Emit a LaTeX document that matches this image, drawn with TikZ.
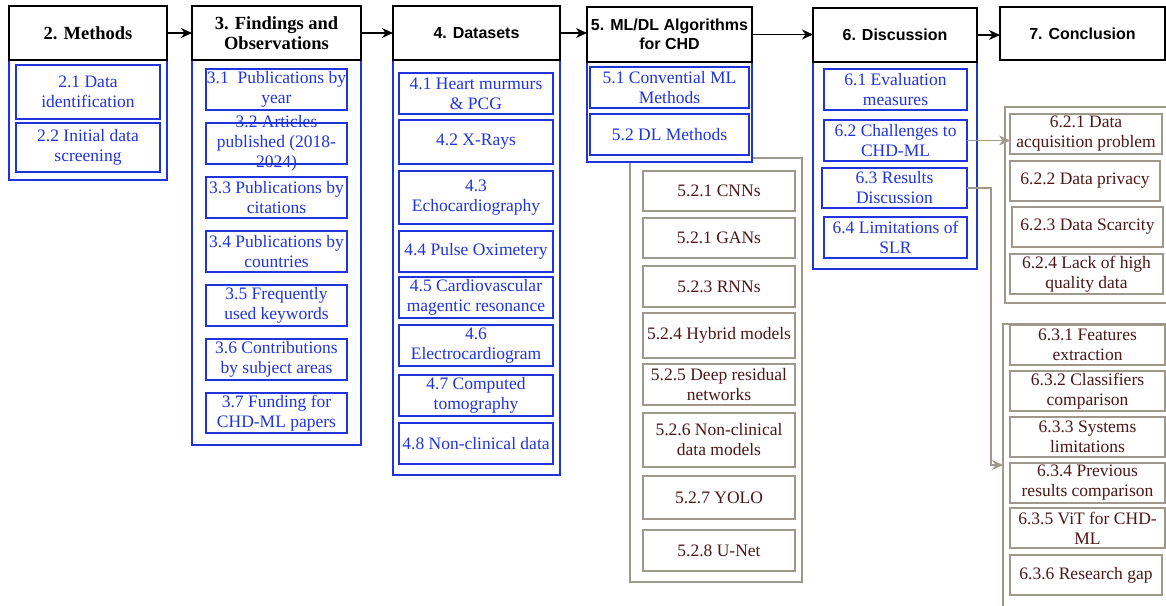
\documentclass[tikz,border=0pt]{standalone}
\usepackage{fontspec}
\setmainfont{Liberation Serif}
\setsansfont{Liberation Sans}
\usetikzlibrary{arrows.meta}
\definecolor{myblue}{RGB}{32,52,222}
\definecolor{mygray}{RGB}{158,153,138}
\definecolor{mymaroon}{RGB}{78,22,22}
\newcommand\mkbox[7]{\node[#1,minimum width={(#4-#2)*1pt},minimum height={(#5-#3)*1pt}] (#6) at (#2,#3) {#7};}
\begin{document}
\begin{tikzpicture}[x=1pt,y=-1pt,
  base/.style={anchor=north west,inner sep=0pt,outer sep=0pt,align=center},
  hdr/.style={base,draw=black,line width=1.2pt,fill=white,font=\sffamily\bfseries\fontsize{16}{19}\selectfont},
  hdrs/.style={base,draw=black,line width=1.2pt,fill=white,font=\rmfamily\bfseries\fontsize{18.5}{20}\selectfont},
  cont/.style={base,draw=myblue,line width=1.3pt,fill=white},
  bbox/.style={base,draw=myblue,line width=1.3pt,text=myblue,font=\fontsize{17.5}{20}\selectfont},
  gframe/.style={base,draw=mygray,line width=1.2pt},
  gbox/.style={base,draw=mygray,line width=1.2pt,text=mymaroon,font=\fontsize{17.5}{20}\selectfont},
  harrow/.style={line width=1.2pt,-{Stealth[length=11pt,width=10pt,inset=3.5pt]}},
  garrow/.style={draw=mygray,line width=1.2pt,-{Stealth[length=11pt,width=10pt,inset=3.5pt]},mygray}
]
\useasboundingbox (0,0) rectangle (1166,605);
\clip (0,0) rectangle (1166,605);
\fill[white] (0,0) rectangle (1166,605);

% gray group frames
\mkbox{gframe}{630}{158}{802}{582}{g52}{}
\mkbox{gframe}{1005}{107}{1180}{303}{g62}{}
\mkbox{gframe}{1003}{324}{1180}{620}{g63}{}

% containers
\mkbox{cont}{9}{60}{167}{180}{c2}{}
\mkbox{cont}{192}{60}{361}{445}{c3}{}
\mkbox{cont}{393}{60}{560}{475}{c4}{}
\mkbox{cont}{587}{62}{752}{162}{c5}{}
\mkbox{cont}{813}{62}{977}{269}{c6}{}

% headers
\mkbox{hdrs}{9}{6}{167}{60}{h2}{2. Methods}
\mkbox{hdrs}{192}{6}{361}{60}{h3}{3. Findings and\\Observations}
\mkbox{hdr}{393}{6}{560}{60}{h4}{4. Datasets}
\mkbox{hdr}{587}{7}{752}{62}{h5}{5. ML/DL Algorithms\\for CHD}
\mkbox{hdr}{813}{8}{977}{62}{h6}{6. Discussion}
\mkbox{hdr}{1000}{7}{1165}{60}{h7}{7. Conclusion}

% 2.x
\mkbox{bbox}{16}{65}{160}{119}{b21}{2.1 Data\\identification}
\mkbox{bbox}{16}{123}{160}{172}{b22}{2.2 Initial data\\screening}

% 3.x
\mkbox{bbox}{206}{69}{347}{110}{b31}{3.1\ \ Publications by\\year}
\mkbox{bbox}{206}{123}{347}{164}{b32}{}
\node[text=myblue,font=\fontsize{17.5}{20}\selectfont,align=center,inner sep=0pt] (t32) at (b32.center) {3.2 Articles\\published (2018-\\2024)};
\mkbox{bbox}{206}{177}{347}{218}{b33}{3.3 Publications by\\citations}
\mkbox{bbox}{206}{231}{347}{272}{b34}{3.4 Publications by\\countries}
\mkbox{bbox}{206}{285}{347}{326}{b35}{3.5 Frequently\\used keywords}
\mkbox{bbox}{206}{339}{347}{380}{b36}{3.6 Contributions\\by subject areas}
\mkbox{bbox}{206}{393}{347}{433}{b37}{3.7 Funding for\\CHD-ML papers}

% 4.x
\mkbox{bbox}{399}{73}{553}{114}{b41}{4.1 Heart murmurs\\\& PCG}
\mkbox{bbox}{399}{120}{553}{164}{b42}{4.2 X-Rays}
\mkbox{bbox}{399}{171}{553}{224}{b43}{4.3\\Echocardiography}
\mkbox{bbox}{399}{231}{553}{272}{b44}{4.4 Pulse Oximetery}
\mkbox{bbox}{399}{277}{553}{318}{b45}{4.5 Cardiovascular\\magentic resonance}
\mkbox{bbox}{399}{325}{553}{366}{b46}{4.6\\Electrocardiogram}
\mkbox{bbox}{399}{375}{553}{416}{b47}{4.7 Computed\\tomography}
\mkbox{bbox}{399}{423}{553}{464}{b48}{4.8 Non-clinical data}

% 5.x
\mkbox{bbox}{590}{67}{749}{108}{b51}{5.1 Convential ML\\Methods}
\mkbox{bbox}{590}{114}{749}{155}{b52}{5.2 DL Methods}

% 5.2.x
\mkbox{gbox}{643}{171}{795}{211}{b521}{5.2.1 CNNs}
\mkbox{gbox}{643}{218}{795}{258}{b521g}{5.2.1 GANs}
\mkbox{gbox}{643}{266}{795}{307}{b523}{5.2.3 RNNs}
\mkbox{gbox}{643}{313}{795}{358}{b524}{5.2.4 Hybrid models}
\mkbox{gbox}{643}{364}{795}{405}{b525}{5.2.5 Deep residual\\networks}
\mkbox{gbox}{643}{413}{795}{467}{b526}{5.2.6 Non-clinical\\data models}
\mkbox{gbox}{643}{476}{795}{519}{b527}{5.2.7 YOLO}
\mkbox{gbox}{643}{530}{795}{571}{b528}{5.2.8 U-Net}

% 6.x
\mkbox{bbox}{824}{69}{967}{110}{b61}{6.1 Evaluation\\measures}
\mkbox{bbox}{824}{120}{967}{161}{b62}{6.2 Challenges to\\CHD-ML}
\mkbox{bbox}{822}{168}{967}{208}{b63}{6.3 Results\\Discussion}
\mkbox{bbox}{824}{217}{967}{258}{b64}{6.4 Limitations of\\SLR}

% 6.2.x
\mkbox{gbox}{1010}{114}{1162}{154}{b621}{6.2.1 Data\\acquisition problem}
\mkbox{gbox}{1010}{161}{1160}{201}{b622}{6.2.2 Data privacy}
\mkbox{gbox}{1012}{207}{1163}{247}{b623}{6.2.3 Data Scarcity}
\mkbox{gbox}{1010}{254}{1163}{294}{b624}{6.2.4 Lack of high\\quality data}

% 6.3.x
\mkbox{gbox}{1010}{325}{1165}{365}{b631}{6.3.1 Features\\extraction}
\mkbox{gbox}{1010}{371}{1165}{411}{b632}{6.3.2 Classifiers\\comparison}
\mkbox{gbox}{1010}{417}{1165}{457}{b633}{6.3.3 Systems\\limitations}
\mkbox{gbox}{1010}{463}{1165}{503}{b634}{6.3.4 Previous\\results comparison}
\mkbox{gbox}{1010}{508}{1165}{548}{b635}{6.3.5 ViT for CHD-\\ML}
\mkbox{gbox}{1010}{555}{1162}{595}{b636}{6.3.6 Research gap}

% header arrows
\draw[harrow] (h2.east) -- (h2.east -| h3.west);
\draw[harrow] (h3.east) -- (h3.east -| h4.west);
\draw[harrow] (h4.east) -- (h4.east -| h5.west);
\draw[harrow] (h5.east) -- (h5.east -| h6.west);
\draw[harrow] (h6.east) -- (h6.east -| h7.west);

% gray connectors
\draw[garrow] (b62.east) -- (b62.east -| b621.west);
\coordinate (c63) at (991,465);
\draw[garrow] (b63.east) -| (c63) -- (c63 -| g63.west);
\end{tikzpicture}
\end{document}
